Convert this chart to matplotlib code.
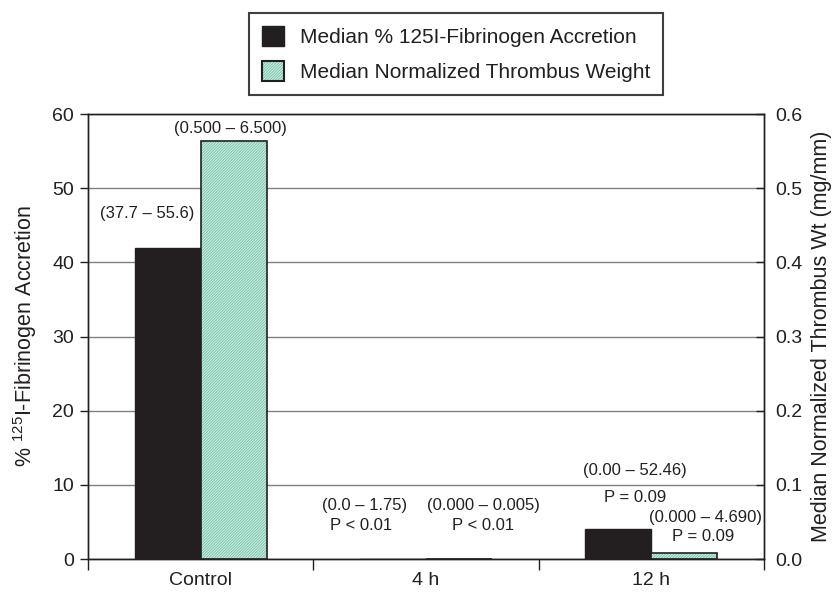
import matplotlib
matplotlib.use("Agg")
import matplotlib.pyplot as plt
from matplotlib.patches import Patch
from matplotlib.legend_handler import HandlerTuple

plt.rcParams['font.family'] = ['Liberation Sans', 'DejaVu Sans']
plt.rcParams['mathtext.default'] = 'regular'
plt.rcParams['hatch.color'] = '#74c4ab'
plt.rcParams['hatch.linewidth'] = 0.7

# data
categories = ['Control', '4 h', '12 h']
fibrinogen_pct = [42.0, 0.0, 4.0]          # left axis
thrombus_wt = [0.564, 0.0, 0.008]          # right axis (mg/mm)

# annotation text: (text, x, y) in left-axis data units
notes = [
    ('(37.7 – 55.6)', 0.262, 46.6),
    ('(0.500 – 6.500)', 0.630, 58.1),
    ('(0.0 – 1.75)', 1.227, 7.2),
    ('P < 0.01', 1.213, 4.55),
    ('(0.000 – 0.005)', 1.753, 7.2),
    ('P < 0.01', 1.753, 4.55),
    ('(0.00 – 52.46)', 2.428, 12.0),
    ('P = 0.09', 2.428, 8.35),
    ('(0.000 – 4.690)', 2.742, 5.66),
    ('P = 0.09', 2.729, 3.1),
]

ink = '#231f20'
mint = '#d8f0e7'
grid_c = '#808080'
hatch = '////////////'

fig = plt.figure(figsize=(8.36, 5.92), dpi=100)
ax = fig.add_axes([0.1053, 0.0557, 0.8086, 0.7517])
ax2 = ax.twinx()

centers = [0.5, 1.5, 2.5]
w = 0.293

ax.set_axisbelow(True)
ax.yaxis.grid(True, color=grid_c, linewidth=1.0)
ax.bar([c - w for c in centers], fibrinogen_pct, width=w, align='edge',
       color=ink, edgecolor=ink, linewidth=1.0, zorder=2)

# hatched bars: fill+hatch first, then the outline
ax2.bar(centers, thrombus_wt, width=w, align='edge', facecolor=mint,
        hatch=hatch, linewidth=0, zorder=2)
ax2.bar(centers, thrombus_wt, width=w, align='edge', fill=False,
        edgecolor=ink, linewidth=1.2, zorder=3)

ax.set_xlim(0, 3)
ax.set_ylim(0, 60)
ax2.set_ylim(0, 0.6)
ax.set_yticks(range(0, 61, 10))
ax2.set_yticks([0.0, 0.1, 0.2, 0.3, 0.4, 0.5, 0.6])
ax2.set_yticklabels([f'{v:.1f}' for v in ax2.get_yticks()])

ax.set_xticks([0, 1, 2, 3])
ax.set_xticklabels([])
ax.set_xticks(centers, minor=True)
ax.set_xticklabels(categories, minor=True)
ax.tick_params(axis='x', which='major', length=8, width=1, color=ink)
ax.tick_params(axis='x', which='minor', length=0, pad=9, labelsize=14, labelcolor=ink)
ax.tick_params(axis='y', direction='out', length=6, width=1, color=ink,
               labelsize=14, labelcolor=ink, pad=4)
ax2.tick_params(axis='y', direction='in', length=6, width=1, color=ink,
                labelsize=14, labelcolor=ink, pad=8)

for a in (ax, ax2):
    for s in a.spines.values():
        s.set_color(ink)
        s.set_linewidth(1.0)
ax.spines['top'].set_color('#404040')

fig.text(25 / 836, 0.5 * (0.0557 + 0.8074), '% $^{125}$I-Fibrinogen Accretion',
         rotation=90, ha='center', va='center', fontsize=15.5, color=ink)
fig.text(821 / 836, 0.5 * (0.0557 + 0.8074), 'Median Normalized Thrombus Wt (mg/mm)',
         rotation=90, ha='center', va='center', fontsize=15.5, color=ink)

for txt, x, y in notes:
    ax.text(x, y, txt, ha='center', va='center', fontsize=12, color=ink, zorder=4)

h1 = Patch(facecolor=ink, edgecolor=ink)
h2a = Patch(facecolor=mint, hatch=hatch, linewidth=0)
h2b = Patch(fill=False, edgecolor=ink, linewidth=1.5)
leg = fig.legend([h1, (h2a, h2b)],
                 ['Median % 125I-Fibrinogen Accretion',
                  'Median Normalized Thrombus Weight'],
                 handler_map={tuple: HandlerTuple(ndivide=1, pad=0)},
                 loc='upper left', bbox_to_anchor=(249 / 836, 1 - 13 / 592),
                 borderaxespad=0, fontsize=15, handlelength=1.1, handleheight=1.1,
                 labelspacing=0.7, borderpad=0.6, handletextpad=0.75,
                 fancybox=False, framealpha=1, edgecolor='#404040',
                 labelcolor=ink)
leg.get_frame().set_linewidth(1.5)

fig.savefig('out.png', dpi=100)
